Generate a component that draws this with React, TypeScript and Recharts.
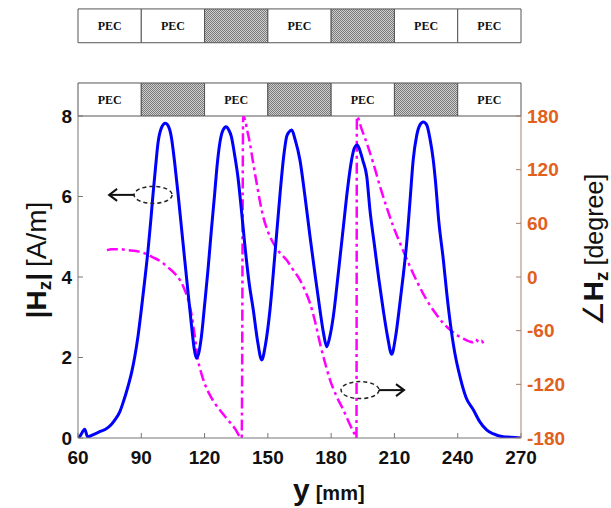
import React from 'react'
import { LineChart, Line, XAxis, YAxis, ReferenceArea, ReferenceDot } from 'recharts'

// |Hz| (A/m)
const hzPos = [
	60, 61, 63.2, 64.5, 67, 70, 74, 76, 77.5, 79.8, 81.5, 83.7, 85.5, 86.9, 88.5, 90, 91.6, 93.2, 94.5, 95.6, 96.8, 97.9,
	99.5, 101.4, 102.8, 104.2, 105.8, 107.4, 109, 110.6, 112.2, 113.7, 115, 116.1, 117.2, 118.5, 120, 121.6, 123.2, 124.8,
	126, 127.2, 128.5, 130.3, 131.5, 132.7, 134.2, 135.8, 137.4, 139, 141, 143.1, 145, 147.1, 148.8, 151, 153.4, 155.8,
	157.4, 158.9, 160, 161.3, 163, 165.2, 167.6, 170, 172.4, 174.7, 176.4, 177.9, 179.3, 181, 183.4, 185.8, 187.8, 189.7,
	191, 192.4, 193.6, 195, 196.9, 198.4, 200.5, 202.6, 204.7, 206.8, 208.7, 210.5, 212.6, 214.2, 215.8, 217.4, 218.9,
	220.5, 222.1, 223.7, 225.3, 226.8, 228.4, 229.5, 231, 233.2, 234.8, 236.3, 238.5, 241.1, 244, 247.4, 250.5, 253.7, 257,
	261.6, 265, 270,
]
const hzVal = [
	0, 0.05, 0.22, 0.03, 0.08, 0.15, 0.25, 0.35, 0.45, 0.65, 0.9, 1.28, 1.65, 2.02, 2.55, 3.18, 3.9, 4.67, 5.4, 6.08, 6.75,
	7.32, 7.7, 7.82, 7.75, 7.49, 6.85, 6.08, 5.25, 4.42, 3.6, 2.85, 2.25, 1.98, 2.1, 2.52, 3.3, 4.17, 5.15, 6.08, 6.8, 7.32,
	7.62, 7.73, 7.65, 7.49, 7.05, 6.49, 5.7, 4.84, 3.9, 3.18, 2.45, 1.94, 2.3, 3.18, 4.6, 6.08, 6.95, 7.49, 7.6, 7.65, 7.4,
	6.91, 6.0, 5.0, 4.05, 3.18, 2.6, 2.27, 2.5, 3.01, 4.1, 5.25, 6.2, 6.91, 7.2, 7.28, 7.15, 6.9, 6.49, 5.66, 4.8, 3.95,
	3.18, 2.5, 2.08, 2.5, 3.35, 4.05, 4.84, 5.9, 6.91, 7.5, 7.78, 7.85, 7.78, 7.45, 6.91, 6.35, 5.4, 4.42, 3.6, 2.93, 2.15,
	1.52, 1.0, 0.7, 0.4, 0.2, 0.1, 0.03, 0.02, 0,
]

// phase of Hz (degree)
const phPos = [
	73.7, 76, 80, 83.7, 87.5, 91.6, 95.5, 99.5, 102.5, 105.8, 108.5, 110.6, 112.3, 113.7, 115.3, 116.9, 118.5, 120, 122.3,
	124.8, 128, 131.1, 134.3, 137.6, 138.3, 139.2, 140.3, 141.5, 143, 144.7, 146.2, 147.8, 150, 152.6, 155.7, 158.9, 162,
	165.2, 167.6, 170, 172.4, 174.7, 177, 179.5, 182.5, 185.8, 188.5, 191.3, 192.0, 192.2, 194.5, 196.9, 200, 203.2, 206.3,
	209.5, 213.5, 217.4, 221.3, 225.3, 229.3, 233.2, 236.4, 239.5, 242.7, 245.8, 247.3, 248.2, 248.9, 250, 251.2, 252.1,
]
const phVal = [
	30, 31, 31, 30, 29, 26.5, 22, 17, 11, 4, -4, -14.5, -26, -40.6, -65, -92.8, -108, -118.8, -131, -141, -151, -160, -169,
	-180, 180, 175.5, 163, 149.5, 128, 104.8, 85, 67.4, 51, 37.7, 27, 19, 8, -3.3, -15, -29.4, -50, -74.1, -95, -115.2,
	-133, -148.7, -163, -176.6, -180, 179.5, 165, 149.5, 127, 101, 78, 56.3, 33, 11.5, -8, -25.7, -40, -51.8, -59, -64.8,
	-69, -72.3, -73, -70, -70.4, -73, -71, -74.1,
]

const xTicks = [60, 90, 120, 150, 180, 210, 240, 270]
const leftTicks = [0, 2, 4, 6, 8]
const rightTicks = [-180, -120, -60, 0, 60, 120, 180]

// strip above the plot: one cell per 30 mm
const cellEdges = [60, 90, 120, 150, 180, 210, 240, 270]
const topRow = ['PEC', 'PEC', '', 'PEC', '', 'PEC', 'PEC']
const bottomRow = ['PEC', '', 'PEC', '', 'PEC', '', 'PEC']

const hzData = hzPos.map((y, i) => ({ y, v: hzVal[i] }))
const phData = phPos.map((y, i) => ({ y, v: phVal[i] }))

const sans = 'Liberation Sans, Arial, Helvetica, sans-serif'
const orange = '#e0601c'

const tag = (dir: number) => (p: any) => {
	const { cx, cy } = p
	const rx = 19
	const x0 = cx + dir * rx
	const x1 = cx + dir * (rx + 25)
	return (
		<g>
			<ellipse cx={cx} cy={cy} rx={rx} ry={8.5} fill="none" stroke="#222" strokeWidth={1.5} strokeDasharray="4 3" />
			<line x1={x0} y1={cy} x2={x1} y2={cy} stroke="#111" strokeWidth={2} />
			<polyline
				points={`${x1 - dir * 8},${cy - 6} ${x1},${cy} ${x1 - dir * 8},${cy + 6}`}
				fill="none"
				stroke="#111"
				strokeWidth={2}
			/>
		</g>
	)
}

const cell = (label: string, i: number, y1: number, y2: number, key: string) => (
	<ReferenceArea
		key={key}
		yAxisId="left"
		x1={cellEdges[i]}
		x2={cellEdges[i + 1]}
		y1={y1}
		y2={y2}
		ifOverflow="visible"
		fill={label ? '#ffffff' : 'url(#hatch)'}
		fillOpacity={1}
		stroke="#555"
		strokeWidth={1}
		label={
			label
				? {
						value: label,
						position: 'center',
						fill: '#111',
						fontSize: 12,
						fontWeight: 'bold',
						fontFamily: 'Liberation Serif, Times New Roman, serif',
				  }
				: undefined
		}
	/>
)

export default function App() {
	return (
		<div style={{ position: 'absolute', left: 0, top: 0, width: 611, height: 508, background: '#fff' }}>
			<svg width={0} height={0} style={{ position: 'absolute' }}>
				<defs>
					<pattern id="hatch" width={2} height={2} patternUnits="userSpaceOnUse">
						<rect width={2} height={2} fill="#cfcfcf" />
						<rect width={1} height={1} fill="#7a7a7a" />
						<rect x={1} y={1} width={1} height={1} fill="#7a7a7a" />
					</pattern>
				</defs>
			</svg>
			<LineChart width={611} height={508} margin={{ top: 116, right: 0, bottom: 0, left: 0 }}>
				<XAxis
					type="number"
					dataKey="y"
					domain={[60, 270]}
					ticks={xTicks}
					allowDataOverflow
					height={70}
					stroke="#777"
					tickSize={-5}
					tickMargin={18}
					tick={{ fill: '#111', fontSize: 19, fontWeight: 'bold', fontFamily: sans }}
				/>
				<YAxis
					yAxisId="left"
					domain={[0, 8]}
					ticks={leftTicks}
					allowDataOverflow
					width={78}
					stroke="#777"
					tickSize={-5}
					tickMargin={11}
					tick={{ fill: '#111', fontSize: 19, fontWeight: 'bold', fontFamily: sans }}
				/>
				<YAxis
					yAxisId="right"
					orientation="right"
					domain={[-180, 180]}
					ticks={rightTicks}
					allowDataOverflow
					width={90}
					stroke="#a8806a"
					tickSize={-5}
					tickMargin={11}
					tick={{ fill: orange, fontSize: 19, fontWeight: 'bold', fontFamily: sans }}
				/>
				{topRow.map((l, i) => cell(l, i, 9.82, 10.66, 't' + i))}
				{bottomRow.map((l, i) => cell(l, i, 8, 8.82, 'b' + i))}
				<Line
					yAxisId="right"
					data={phData}
					dataKey="v"
					type="monotone"
					stroke="#ff00ff"
					strokeWidth={2.5}
					strokeDasharray="11 4 3 4"
					dot={false}
					isAnimationActive={false}
				/>
				<Line
					yAxisId="left"
					data={hzData}
					dataKey="v"
					type="monotone"
					stroke="#0000ff"
					strokeWidth={3}
					dot={false}
					isAnimationActive={false}
				/>
				<ReferenceDot yAxisId="left" x={95.6} y={6.04} r={0} shape={tag(-1)} />
				<ReferenceDot yAxisId="left" x={193.7} y={1.19} r={0} shape={tag(1)} />
			</LineChart>
			<svg width={611} height={508} style={{ position: 'absolute', left: 0, top: 0, pointerEvents: 'none' }}>
				<text transform="translate(46,260) rotate(-90)" textAnchor="middle" fontFamily={sans} fill="#111">
					<tspan fontSize={28} fontWeight="bold">|H</tspan>
					<tspan fontSize={19} fontWeight="bold" dy={5}>z</tspan>
					<tspan fontSize={28} fontWeight="bold" dy={-5}>|</tspan>
					<tspan fontSize={28} dx={6}>[A/m]</tspan>
				</text>
				<text transform="translate(603,250) rotate(-90)" textAnchor="middle" fontFamily={sans} fill="#111">
					<tspan fontSize={28}>∠</tspan>
					<tspan fontSize={28} fontWeight="bold">H</tspan>
					<tspan fontSize={19} fontWeight="bold" dy={5}>z</tspan>
					<tspan fontSize={25} dy={-5} dx={6}>[degree]</tspan>
				</text>
				<text x={293} y={500} fontFamily={sans} fill="#111" fontWeight="bold">
					<tspan fontSize={30}>y</tspan>
					<tspan fontSize={20} dx={6}>[mm]</tspan>
				</text>
			</svg>
		</div>
	)
}
